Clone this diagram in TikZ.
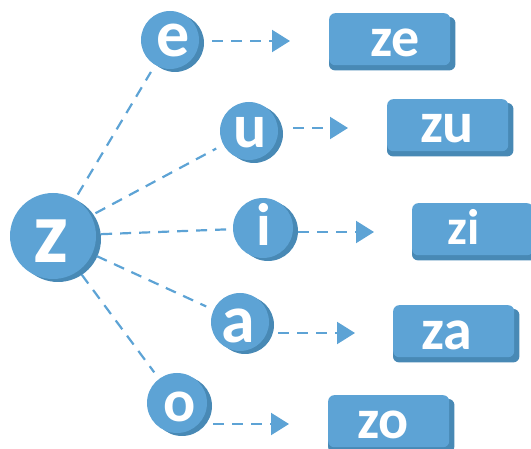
\documentclass[tikz,border=0pt]{standalone}
\usepackage{fontspec}
\setmainfont{Carlito}
\usetikzlibrary{arrows.meta,shadows}
\pgfdeclarelayer{bg}
\pgfsetlayers{bg,main}
\definecolor{lb}{HTML}{5DA3D5}
\definecolor{db}{HTML}{4889B5}
\tikzset{
 ball/.style={circle, fill=lb, inner sep=0pt, draw=none,
   drop shadow={shadow xshift=5pt, shadow yshift=-3pt, fill=db, opacity=1}},
 card/.style={rectangle, rounded corners=6pt, fill=lb, minimum width=121pt,
   minimum height=52pt, anchor=north west},
 cardshadow/.style={fill=db, rounded corners=6pt},
 lbl/.style={text=white, inner sep=0pt, anchor=base, font=\bfseries\fontsize{#1}{#1}\selectfont},
 link/.style={draw=lb, line width=2.2pt, dash pattern=on 11pt off 8pt,
   shorten <=5pt, shorten >=8pt},
 pointer/.style={draw=lb, line width=2.2pt, dash pattern=on 11pt off 8pt,
   -{Triangle[length=18pt,width=22pt]}},
}
\begin{document}
\begin{tikzpicture}[x=1pt,y=-1pt]
\useasboundingbox (0,0) rectangle (531,449);
% circles
\node[ball, minimum size=86pt] (z) at (53,236) {};
\node[ball, minimum size=58pt] (e) at (170,40) {};
\node[ball, minimum size=58pt] (u) at (249,131) {};
\node[ball, minimum size=60pt] (i) at (263,228) {};
\node[ball, minimum size=58pt] (a) at (240,322) {};
\node[ball, minimum size=60pt] (o) at (177,403) {};
% letters
\node[lbl=88] (zt) at (51,263) {z};
\node[lbl=66] (et) at (173,57) {e};
\node[lbl=62] (ut) at (250,148) {u};
\node[lbl=60] (it) at (264,246) {i};
\node[lbl=68] (at) at (238,343) {a};
\node[lbl=60] (ot) at (180,422) {o};
% cards
\node[card] (ze) at (329,13) {};
\node[card] (zu) at (387,99) {};
\node[card] (zi) at (412,203) {};
\node[card] (za) at (393,305) {};
\node[card] (zo) at (328,395) {};
\begin{pgfonlayer}{bg}
\foreach \c in {ze,zu,zi,za,zo}
  \fill[cardshadow] ([yshift=-4pt]\c.north west) rectangle ([shift={(5pt,-5pt)}]\c.south east);
\end{pgfonlayer}
\node[lbl=56] (zet) at (395,57) {ze};
\node[lbl=58] (zut) at (447,143) {zu};
\node[lbl=50] (zit) at (464,245) {zi};
\node[lbl=58] (zat) at (447,350) {za};
\node[lbl=56] (zot) at (383,439) {zo};
% links
\draw[link] (z) -- (e);
\draw[link] (z) -- (u);
\draw[link, shorten >=0pt] (z) -- (i);
\draw[link] (z) -- (a);
\draw[link] (z) -- (o);
% pointers
\coordinate (ea) at (290,41);
\coordinate (ua) at (348,128);
\coordinate (ia) at (374,232);
\coordinate (aa) at (355,333);
\coordinate (oa) at (289,424);
\draw[pointer] ([shift={(13,1)}]e.east) -- (ea);
\draw[pointer] ([shift={(15,-3)}]u.east) -- (ua);
\draw[pointer] ([shift={(5,4)}]i.east) -- (ia);
\draw[pointer] ([shift={(9,11)}]a.east) -- (aa);
\draw[pointer] ([shift={(6,21)}]o.east) -- (oa);
\end{tikzpicture}
\end{document}
